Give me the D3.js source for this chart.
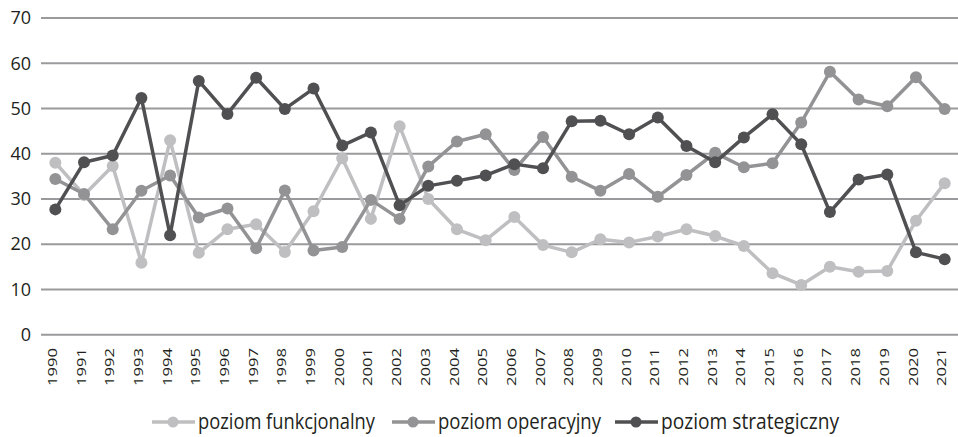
<!DOCTYPE html>
<html><head><meta charset="utf-8">
<script src="https://cdn.jsdelivr.net/npm/d3@7"></script>
<style>body{margin:0;background:#fff}svg{display:block}text{font-family:"Open Sans",sans-serif;fill:#231f20}</style>
</head><body><svg id="c" width="958" height="437"></svg>
<script>
const years = d3.range(1990, 2022).map(String);
const funkcjonalny = [38.0,30.9,37.3,15.9,43.0,18.1,23.3,24.4,18.3,27.3,39.0,25.6,46.1,30.0,23.3,20.9,26.0,19.8,18.2,21.1,20.4,21.7,23.3,21.8,19.6,13.6,11.0,15.0,13.9,14.1,25.2,33.5];
const operacyjny = [34.4,31.1,23.3,31.8,35.2,25.9,27.9,19.1,31.9,18.6,19.4,29.8,25.6,37.2,42.7,44.3,36.4,43.7,34.9,31.8,35.5,30.5,35.3,40.2,37.0,37.9,46.9,58.1,52.0,50.5,56.9,49.9];
const strategiczny = [27.7,38.1,39.6,52.3,22.0,56.1,48.8,56.8,49.9,54.4,41.8,44.7,28.6,32.9,34.0,35.2,37.7,36.8,47.2,47.3,44.3,48.0,41.7,38.1,43.6,48.7,42.1,27.1,34.3,35.4,18.2,16.7];
const seriesNames = ["poziom funkcjonalny","poziom operacyjny","poziom strategiczny"];
const seriesColors = ["#bfbfc1","#939395","#505052"];
const yTicks = [0,10,20,30,40,50,60,70];

const svg = d3.select("#c");
const x = d3.scaleBand().domain(years).range([41, 959]);
const y = d3.scaleLinear().domain([0,70]).range([334.7, 18]);

// grid
svg.append("g").selectAll("line").data(yTicks).join("line")
  .attr("x1",41).attr("x2",958).attr("y1",d=>y(d)).attr("y2",d=>y(d))
  .attr("stroke","#9a9a9c").attr("stroke-width",2);

// y labels
const yAxis = d3.axisLeft(y).tickValues(yTicks).tickSize(0).tickPadding(0);
const gy = svg.append("g").attr("transform","translate(31,0)").call(yAxis);
gy.select(".domain").remove();
gy.selectAll("text").attr("font-size",18).style("font-family",'"Open Sans",sans-serif').attr("fill","#231f20");

// x labels
const xAxis = d3.axisBottom(x).tickSize(0).tickPadding(0);
const gx = svg.append("g").attr("transform","translate(0,348)").call(xAxis);
gx.select(".domain").remove();
gx.selectAll("text").attr("font-size",13).style("font-family",'"Open Sans",sans-serif').attr("fill","#231f20")
  .attr("transform","rotate(-90)").attr("text-anchor","end").attr("dy","0.12em").attr("x",0).attr("y",0)
  .attr("textLength",38).attr("lengthAdjust","spacingAndGlyphs");

const all = [funkcjonalny, operacyjny, strategiczny];
const line = d3.line().x((d,i)=>x(years[i])+x.bandwidth()/2).y(d=>y(d));
all.forEach((vals,k)=>{
  const g = svg.append("g");
  g.append("path").attr("d",line(vals)).attr("fill","none").attr("stroke",seriesColors[k]).attr("stroke-width",3.5).attr("stroke-linejoin","round");
  g.selectAll("circle").data(vals).join("circle")
    .attr("cx",(d,i)=>x(years[i])+x.bandwidth()/2).attr("cy",d=>y(d)).attr("r",6).attr("fill",seriesColors[k]);
});

// legend
const legX = [152, 392, 615];
const legW = [177, 163, 178];
const lg = svg.append("g");
seriesNames.forEach((n,k)=>{
  const g = lg.append("g").attr("transform",`translate(${legX[k]},422)`);
  g.append("line").attr("x1",0).attr("x2",43).attr("stroke",seriesColors[k]).attr("stroke-width",3.5);
  g.append("circle").attr("cx",21).attr("r",5.5).attr("fill",seriesColors[k]);
  g.append("text").attr("x",46).attr("y",0).attr("dy","0.33em").attr("font-size",21)
    .attr("textLength",legW[k]).attr("lengthAdjust","spacingAndGlyphs").text(n);
});
</script></body></html>
